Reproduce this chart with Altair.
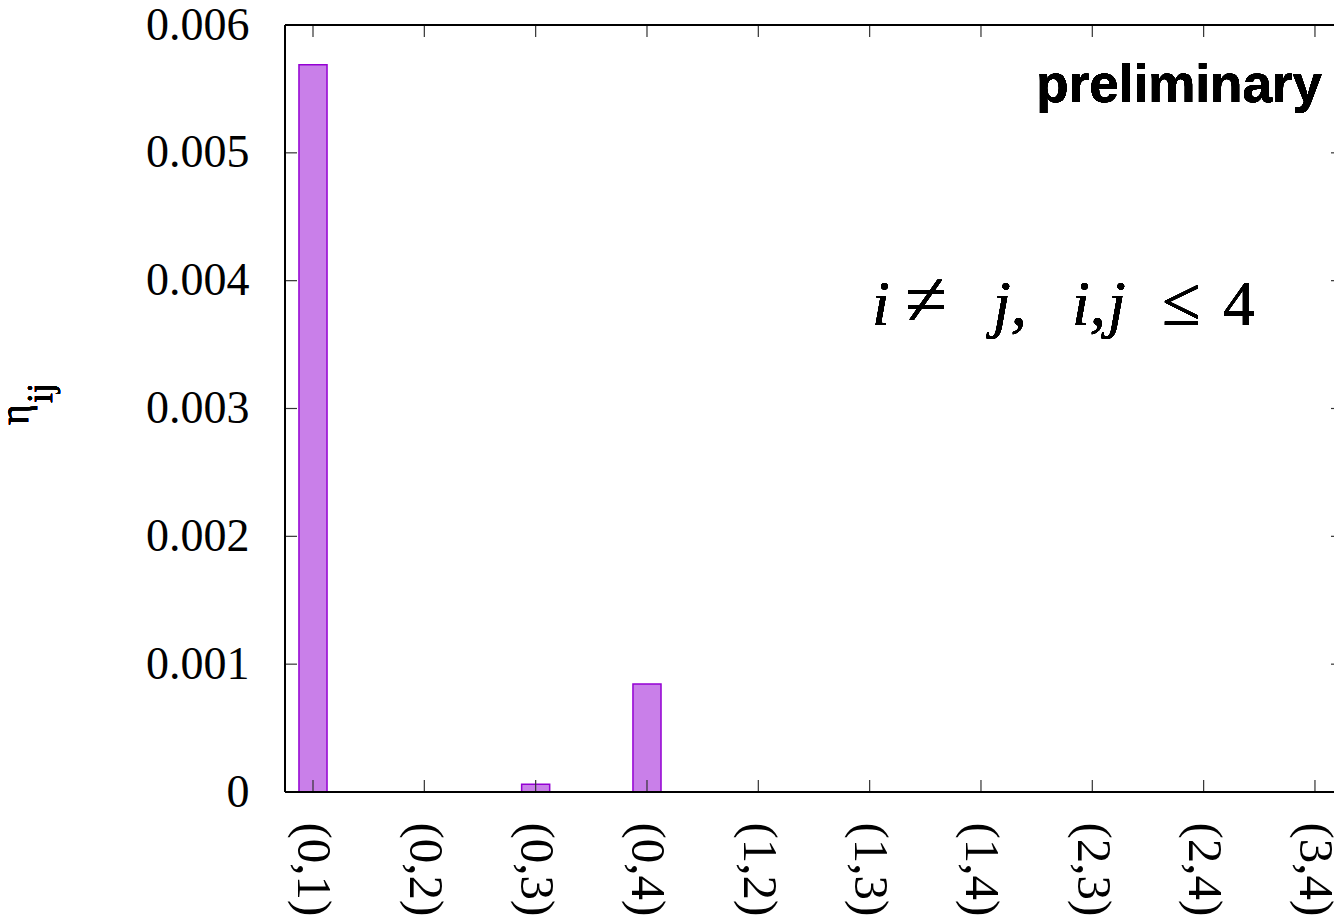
import altair as alt
import pandas as pd

# Off-diagonal pairs (i, j) and the corresponding eta_ij values
pairs = ["(0,1)", "(0,2)", "(0,3)", "(0,4)", "(1,2)", "(1,3)", "(1,4)", "(2,3)", "(2,4)", "(3,4)"]
eta = [0.00569, 0.0, 0.00006, 0.000845, 0.0, 0.0, 0.0, 0.0, 0.0, 0.0]
y_ticks = [0.0, 0.001, 0.002, 0.003, 0.004, 0.005, 0.006]

W, H = 1049, 767
PURPLE = "#9400d3"
SERIF = "Liberation Serif"

bars_df = pd.DataFrame({"idx": list(range(len(pairs))), "pair": pairs, "eta": eta})
yt_df = pd.DataFrame({"v": y_ticks})

x_scale = alt.Scale(domain=[-0.2515, 9.171], nice=False, zero=False)
y_scale = alt.Scale(domain=[0, 0.006], nice=False)

label_expr = "[" + ",".join(f"'{p}'" for p in pairs) + "][datum.value]"

x_axis = alt.Axis(
    values=list(range(len(pairs))), labelExpr=label_expr, title=None,
    domain=False, ticks=False, grid=False,
    labelAngle=90, labelAlign="left", labelBaseline="middle", labelPadding=30,
    labelFont=SERIF, labelFontSize=49, labelColor="black",
)
y_axis = alt.Axis(
    values=y_ticks, labelExpr="datum.value == 0 ? '0' : format(datum.value, '.3f')",
    title=None, domain=False, ticks=False, grid=False, labelPadding=36,
    labelFont=SERIF, labelFontSize=46, labelColor="black",
)

bars = alt.Chart(bars_df).transform_filter("datum.eta > 0").transform_calculate(
    x0="datum.idx - 0.126", x1="datum.idx + 0.126"
).mark_bar(fill=PURPLE, fillOpacity=0.5, stroke=PURPLE, strokeWidth=1.5).encode(
    x=alt.X("x0:Q", scale=x_scale, axis=x_axis),
    x2="x1:Q",
    y=alt.Y("eta:Q", scale=y_scale, axis=y_axis),
    y2=alt.datum(0),
)

tick_style = dict(color="#333333", strokeWidth=1.2)

# inward ticks on the bottom and top borders
xt_bottom = alt.Chart(bars_df).mark_rule(**tick_style).encode(
    x=alt.X("idx:Q", scale=x_scale), y=alt.value(H - 12), y2=alt.value(H)
)
xt_top = alt.Chart(bars_df).mark_rule(**tick_style).encode(
    x=alt.X("idx:Q", scale=x_scale), y=alt.value(0), y2=alt.value(12)
)
# inward ticks on the left and right borders
yt_left = alt.Chart(yt_df).mark_rule(**tick_style).encode(
    y=alt.Y("v:Q", scale=y_scale), x=alt.value(0), x2=alt.value(12)
)
yt_right = alt.Chart(yt_df).mark_rule(**tick_style).encode(
    y=alt.Y("v:Q", scale=y_scale), x=alt.value(W - 3), x2=alt.value(W)
)

border = dict(color="black", strokeWidth=2)
b_left = alt.Chart(bars_df).mark_rule(**border).encode(x=alt.value(0), y=alt.value(0), y2=alt.value(H))
b_bottom = alt.Chart(bars_df).mark_rule(**border).encode(x=alt.value(0), x2=alt.value(W), y=alt.value(H))
b_top = alt.Chart(bars_df).mark_rule(**border).encode(x=alt.value(0), x2=alt.value(W), y=alt.value(0))

prelim = alt.Chart(bars_df).mark_text(
    text="preliminary", font="Liberation Sans", fontWeight="bold", fontSize=53,
    align="right", baseline="alphabetic", color="black",
).encode(x=alt.value(1037), y=alt.value(77))


def piece(txt, x, size, italic):
    """One run of the condition label; math letters are set in italic."""
    kw = dict(text=txt, font=SERIF, fontSize=size, align="left",
              baseline="alphabetic", color="black")
    if italic:
        kw["fontStyle"] = "italic"
    return alt.Chart(bars_df).mark_text(**kw).encode(x=alt.value(x), y=alt.value(300))


cond = [
    piece("i", 587, 64, True),
    piece("≠", 620, 76, False),
    piece("j,", 708, 64, True),
    piece("i,", 787, 64, True),
    piece("j", 823, 64, True),
    piece("≤", 877, 70, False),
    piece("4", 938, 64, False),
]

# y-axis title: eta with subscript ij, reading bottom-to-top
eta_sym = alt.Chart(bars_df).mark_text(
    text="η", font=SERIF, fontSize=40, angle=270,
    align="left", baseline="alphabetic", color="black",
).encode(x=alt.value(-257), y=alt.value(400))
eta_sub = alt.Chart(bars_df).mark_text(
    text="ij", font=SERIF, fontSize=36, angle=270,
    align="left", baseline="alphabetic", color="black",
).encode(x=alt.value(-233), y=alt.value(378))

chart = alt.layer(
    bars, xt_bottom, xt_top, yt_left, yt_right, b_left, b_bottom, b_top,
    prelim, *cond, eta_sym, eta_sub,
).properties(
    width=W, height=H,
    autosize=alt.AutoSizeParams(type="none"),
    padding={"left": 285, "top": 25, "right": 0, "bottom": 128},
).configure_view(stroke=None).configure(background="white")

chart.save("out.html", embed_options={"renderer": "svg", "actions": False})
